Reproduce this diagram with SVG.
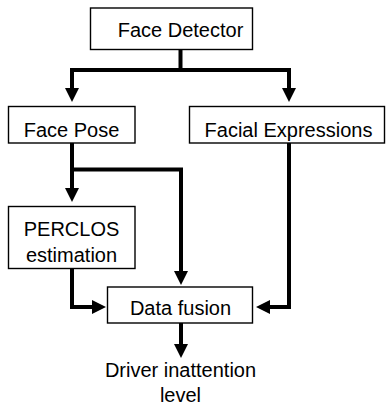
<svg xmlns="http://www.w3.org/2000/svg" width="386" height="408" viewBox="0 0 386 408">
<style>
.box{fill:#fff;stroke:#000;stroke-width:1.4}
.t{font-family:"Liberation Sans",Arial,sans-serif;font-size:20px;fill:#000;text-anchor:middle}
.c{fill:none;stroke:#000;stroke-width:4;stroke-linejoin:miter}
</style>
<defs>
<marker id="ah" viewBox="0 0 14 14" refX="2" refY="7" markerWidth="14" markerHeight="14" markerUnits="userSpaceOnUse" orient="auto">
<path d="M0,0 L14,7 L0,14 z" fill="#000"/>
</marker>
</defs>
<rect width="386" height="408" fill="#fff"/>
<g id="connectors">
<path class="c" d="M180.5,49 V70"/>
<path class="c" d="M182.5,70 H72 V90" marker-end="url(#ah)"/>
<path class="c" d="M178.5,70 H289 V90" marker-end="url(#ah)"/>
<path class="c" d="M72,143 V190" marker-end="url(#ah)"/>
<path class="c" d="M72,169.5 H181 V273" marker-end="url(#ah)"/>
<path class="c" d="M72,269 V307 H94" marker-end="url(#ah)"/>
<path class="c" d="M289,143 V307 H268" marker-end="url(#ah)"/>
<path class="c" d="M181,323 V346" marker-end="url(#ah)"/>
</g>
<g id="face-detector">
<rect class="box" x="90.5" y="8" width="162" height="41.5"/>
<text class="t" x="180.5" y="37">Face Detector</text>
</g>
<g id="face-pose">
<rect class="box" x="8.5" y="106.5" width="126.5" height="36.5"/>
<text class="t" x="71.5" y="137">Face Pose</text>
</g>
<g id="facial-expressions">
<rect class="box" x="189.5" y="106.5" width="195" height="36.5"/>
<text class="t" x="288.5" y="137">Facial Expressions</text>
</g>
<g id="perclos">
<rect class="box" x="8.5" y="206.5" width="126.5" height="62"/>
<text class="t" x="71.5" y="236">PERCLOS</text>
<text class="t" x="71.5" y="261.5">estimation</text>
</g>
<g id="data-fusion">
<rect class="box" x="107.5" y="287" width="145" height="36"/>
<text class="t" x="180.5" y="315">Data fusion</text>
</g>
<g id="output">
<text class="t" x="180.5" y="377">Driver inattention</text>
<text class="t" x="180.5" y="402">level</text>
</g>
</svg>
